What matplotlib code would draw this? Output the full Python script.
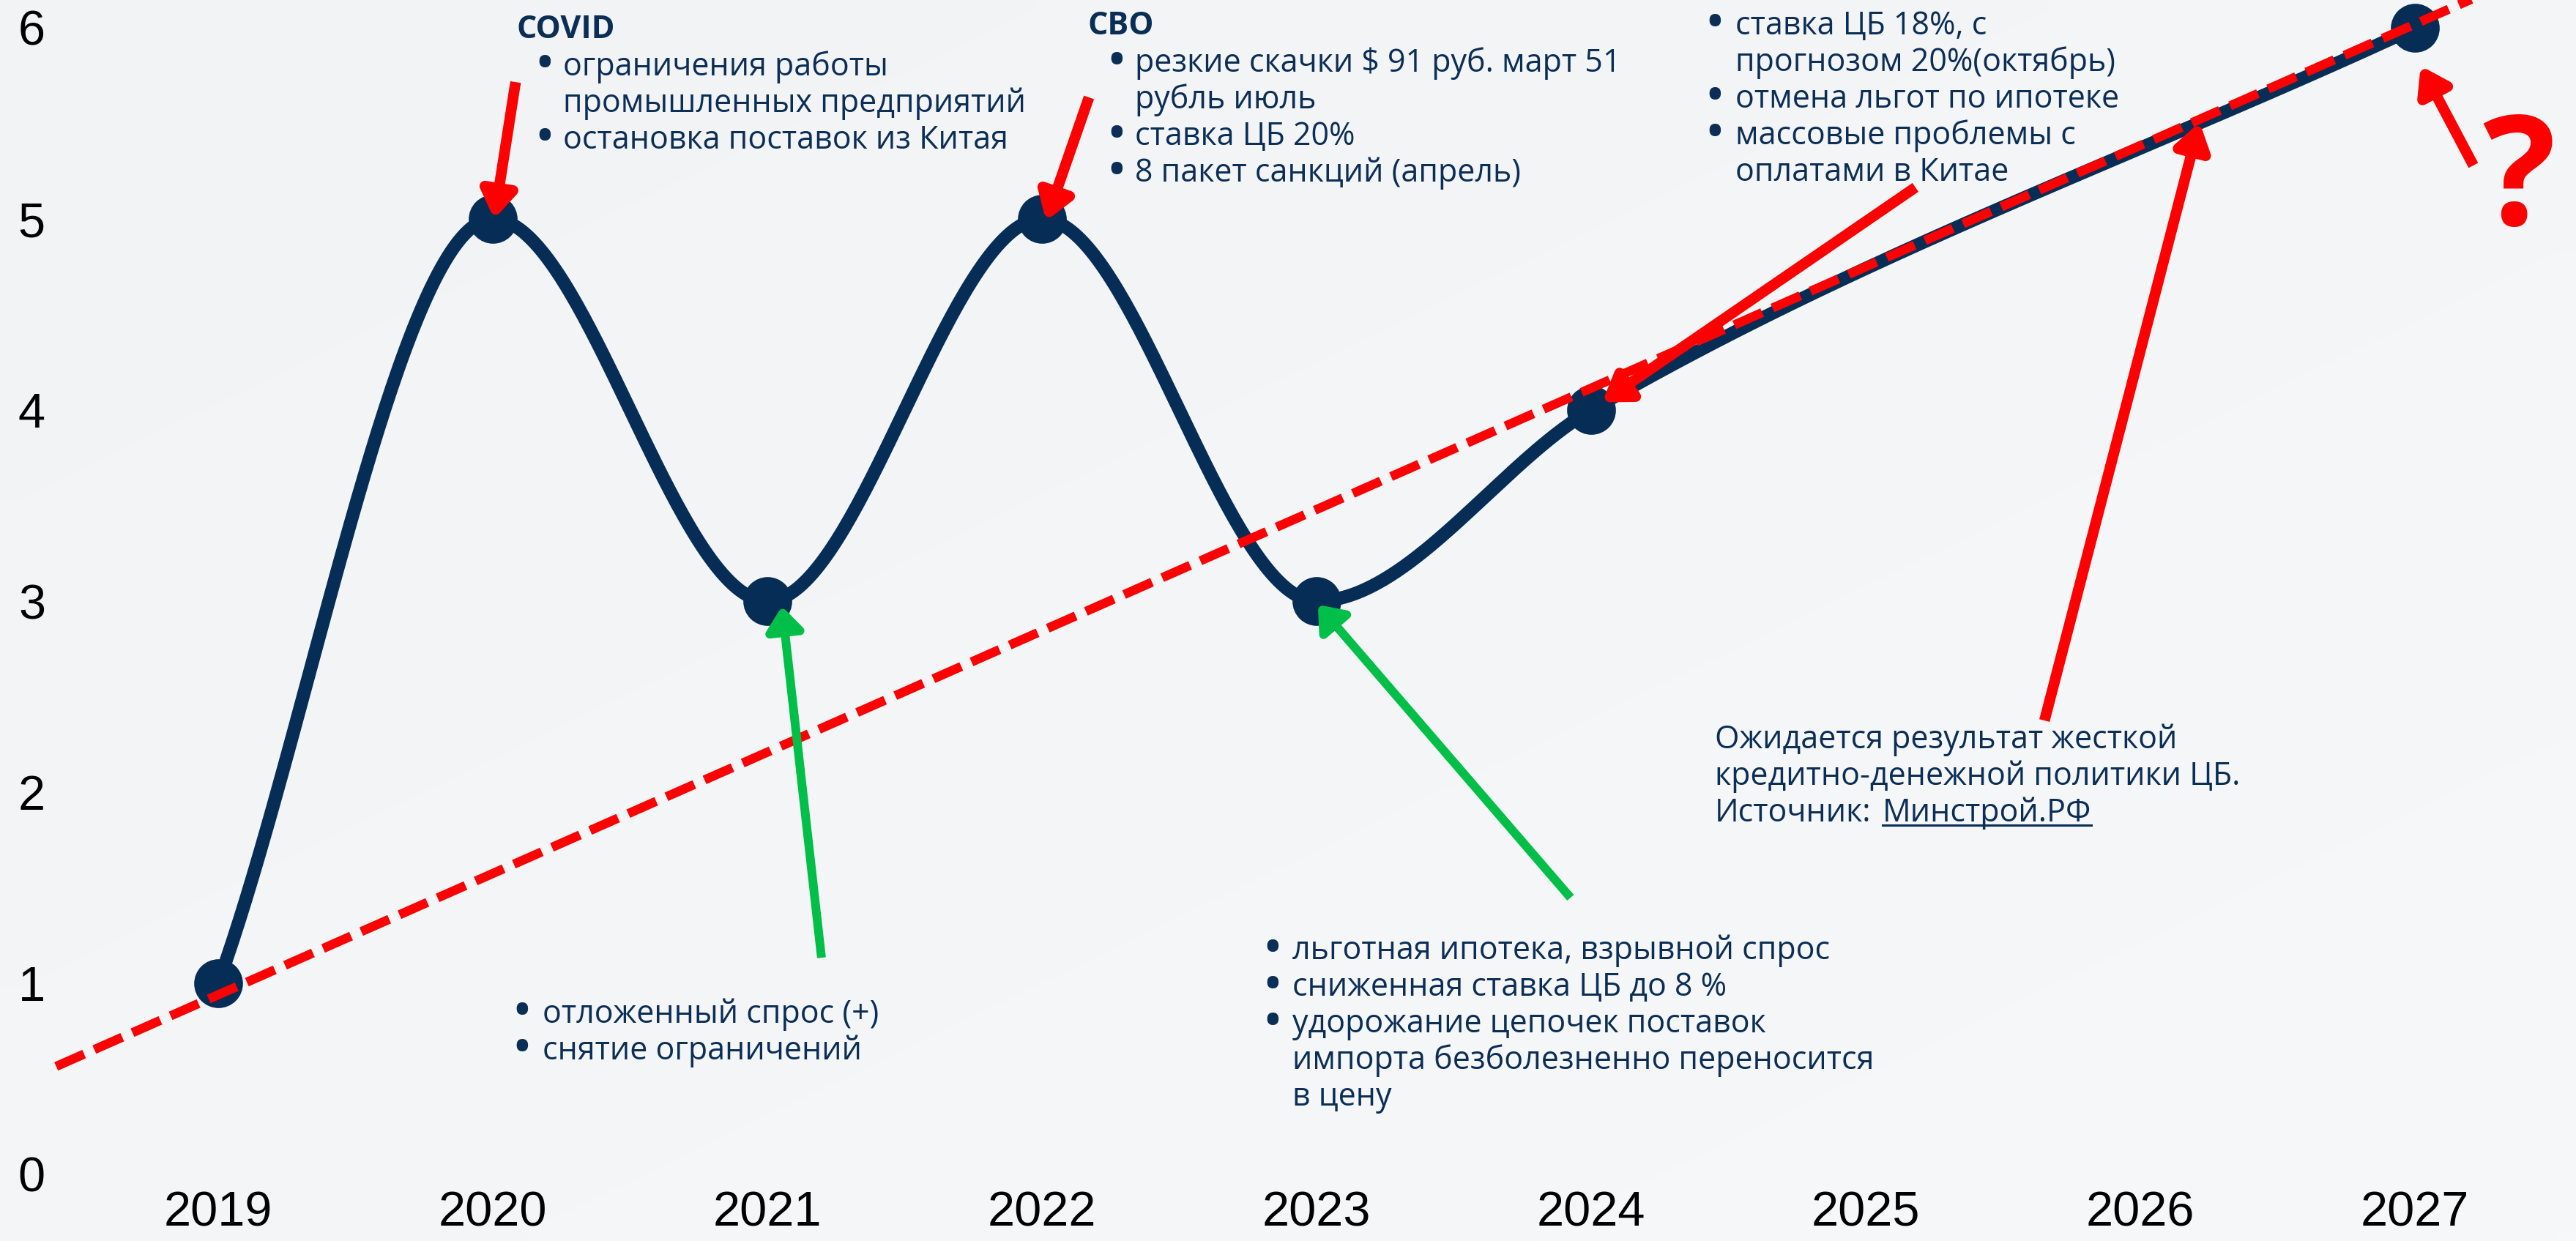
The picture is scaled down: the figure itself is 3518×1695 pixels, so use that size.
import numpy as np
import matplotlib
matplotlib.use("Agg")
import matplotlib.pyplot as plt
from matplotlib.patches import FancyArrowPatch, ArrowStyle
from matplotlib.lines import Line2D

# ---------------- data ----------------
years = [2019, 2020, 2021, 2022, 2023, 2024, 2025, 2026, 2027]
values = [1, 5, 3, 5, 3, 4, None, None, 6]
year_labels = ["2019", "2020", "2021", "2022", "2023", "2024", "2025", "2026", "2027"]
y_ticks = [0, 1, 2, 3, 4, 5, 6]

trend_years = [2018.41, 2027.6]
trend_values = [0.565, 6.40]

red_arrow_tails = [(2020.083, 5.716), (2022.171, 5.636), (2025.181, 5.165),
                   (2025.651, 2.375), (2027.213, 5.280)]
red_arrow_tips = [(2020.005, 5.0), (2022.015, 4.99), (2024.04, 4.04),
                  (2026.216, 5.506), (2027.021, 5.801)]
green_arrow_tails = [(2021.197, 1.134), (2023.925, 1.448)]
green_arrow_tips = [(2021.053, 2.973), (2023.005, 2.981)]

covid_title = "COVID"
covid_lines = [("ограничения работы", True), ("промышленных предприятий", False),
               ("остановка поставок из Китая", True)]
svo_title = "СВО"
svo_lines = [("резкие скачки $ 91 руб. март 51", True), ("рубль июль", False),
             ("ставка ЦБ 20%", True), ("8 пакет санкций (апрель)", True)]
y2024_lines = [("ставка ЦБ 18%, с", True), ("прогнозом 20%(октябрь)", False),
               ("отмена льгот по ипотеке", True), ("массовые проблемы с", True),
               ("оплатами в Китае", False)]
y2023_lines = [("льготная ипотека, взрывной спрос", True),
               ("сниженная ставка ЦБ до 8 %", True),
               ("удорожание цепочек поставок", True),
               ("импорта безболезненно переносится", False), ("в цену", False)]
y2021_lines = [("отложенный спрос (+)", True), ("снятие ограничений", True)]
note_lines = ["Ожидается результат жесткой", "кредитно-денежной политики ЦБ."]
source_label = "Источник:"
source_link = "Минстрой.РФ"
question = "?"

# ---------------- style ----------------
W, H = 3518, 1695
NAVY = "#062d55"
TEXT = "#0b2e56"
RED = "#ff0000"
GREEN = "#00bf48"
TXT_FONT = "Open Sans"
TXT_SIZE = 31

plt.rcParams["font.family"] = ["Liberation Sans", "DejaVu Sans"]
plt.rcParams["lines.scale_dashes"] = False

fig = plt.figure(figsize=(W / 100, H / 100), dpi=100)

# subtle background gradient
bg = fig.add_axes([0, 0, 1, 1], zorder=-10)
gx, gy = np.meshgrid(np.linspace(0, 1, 64), np.linspace(0, 1, 64))
g = (gx * 0.5 + gy * 0.5)
c0 = np.array([242, 243, 245]) / 255
c1 = np.array([247, 248, 250]) / 255
img = c0[None, None, :] * (1 - g[..., None]) + c1[None, None, :] * g[..., None]
bg.imshow(img, extent=[0, 1, 0, 1], aspect="auto", interpolation="bilinear")
bg.axis("off")

# main axes: pixel-aligned so that 2019 -> x=298, step 375 px; v=0 -> y=1604, 261 px/unit
ax = fig.add_axes([0, (H - 1604) / H, 1, 1604 / H])
ax.set_facecolor("none")
ax.set_xlim(2019 - 298 / 375, 2019 + (W - 298) / 375)
ax.set_ylim(0, 1604 / 261)
for s in ax.spines.values():
    s.set_visible(False)
ax.set_xticks(years)
ax.set_xticklabels(year_labels)
ax.set_yticks(y_ticks)
ax.set_yticklabels([str(v) for v in y_ticks])
ax.tick_params(axis="x", length=0, pad=16.5, labelsize=48, colors="black")
ax.tick_params(axis="y", length=0, pad=-44.6, labelsize=48, colors="black")


# monotone cubic interpolation (as Chart.js 'monotone')
def monotone_curve(xs, ys, n=80):
    xs = np.asarray(xs, float)
    ys = np.asarray(ys, float)
    d = np.diff(ys) / np.diff(xs)
    m = np.zeros(len(xs))
    m[0], m[-1] = d[0], d[-1]
    for i in range(1, len(xs) - 1):
        m[i] = 0.0 if d[i - 1] * d[i] <= 0 else (d[i - 1] + d[i]) / 2
    for i in range(len(d)):
        if d[i] == 0:
            m[i] = m[i + 1] = 0
            continue
        a, b = m[i] / d[i], m[i + 1] / d[i]
        if a == 0 or b == 0:
            continue
        s = a * a + b * b
        if s > 9:
            t = 3 / np.sqrt(s)
            m[i], m[i + 1] = t * a * d[i], t * b * d[i]
    X, Y = [], []
    for i in range(len(d)):
        h = xs[i + 1] - xs[i]
        t = np.linspace(0, 1, n)
        h00 = 2 * t**3 - 3 * t**2 + 1
        h10 = t**3 - 2 * t**2 + t
        h01 = -2 * t**3 + 3 * t**2
        h11 = t**3 - t**2
        X.append(xs[i] + t * h)
        Y.append(h00 * ys[i] + h10 * h * m[i] + h01 * ys[i + 1] + h11 * h * m[i + 1])
    return np.concatenate(X), np.concatenate(Y)


vx = [x for x, v in zip(years, values) if v is not None]
vy = [v for v in values if v is not None]
cx, cy = monotone_curve(vx, vy)
ax.plot(cx, cy, color=NAVY, lw=13, solid_capstyle="round", zorder=3)
ax.plot(vx, vy, "o", color=NAVY, ms=48, mew=0, zorder=4)

# trend line
ax.plot(trend_years, trend_values, color=RED, lw=9, dashes=(30, 11),
        dash_capstyle="butt", zorder=5)


def arrow(tail, tip, color, lw, hl, hw):
    p = FancyArrowPatch(posA=tail, posB=tip,
                        arrowstyle=ArrowStyle("-|>", head_length=hl, head_width=hw),
                        mutation_scale=1, lw=lw, color=color, shrinkA=0, shrinkB=0,
                        joinstyle="round", capstyle="butt",
                        transform=ax.transData, clip_on=False, zorder=7)
    ax.add_patch(p)


for t, h in zip(red_arrow_tails, red_arrow_tips):
    arrow(t, h, RED, 10.5, 21, 14)
for t, h in zip(green_arrow_tails, green_arrow_tips):
    arrow(t, h, GREEN, 8.6, 19, 15)


# ---------------- texts ----------------
def fx(x):
    return x / W


def fy(y):
    return 1 - y / H


def txt(x, y, s, **kw):
    kw.setdefault("family", TXT_FONT)
    kw.setdefault("fontsize", TXT_SIZE)
    kw.setdefault("color", TEXT)
    return fig.text(fx(x), fy(y), s, ha="left", va="baseline", parse_math=False, **kw)


def bullet_block(bx, tx, y0, lines, step=50):
    for i, (s, b) in enumerate(lines):
        y = y0 + i * step
        if b:
            fig.text(fx(bx + 7), fy(y - 13), "•", ha="center", va="center",
                     family=TXT_FONT, fontsize=40, fontweight="bold", color=TEXT)
        txt(tx, y, s)


txt(706, 52, covid_title, fontweight="bold")
bullet_block(737, 769, 103, covid_lines)
txt(1486, 47, svo_title, fontweight="bold")
bullet_block(1518, 1550, 98, svo_lines)
bullet_block(2335, 2370, 47, y2024_lines)
bullet_block(1731, 1765, 1310, y2023_lines)
bullet_block(706, 741, 1397, y2021_lines)

for i, s in enumerate(note_lines):
    txt(2342, 1022 + i * 50, s)
txt(2342, 1122, source_label)
link = txt(2571, 1122, source_link)

fig.text(fx(3440), fy(307), question, ha="center", va="baseline", family=TXT_FONT,
         fontweight="bold", fontsize=150, color=RED, parse_math=False)

fig.canvas.draw()
bb = link.get_window_extent()
fig.add_artist(Line2D([bb.x0 / W, bb.x1 / W], [fy(1127), fy(1127)],
                      transform=fig.transFigure, lw=2.2, color=TEXT))

fig.savefig("out.png", dpi=100, facecolor="#f3f4f6")
